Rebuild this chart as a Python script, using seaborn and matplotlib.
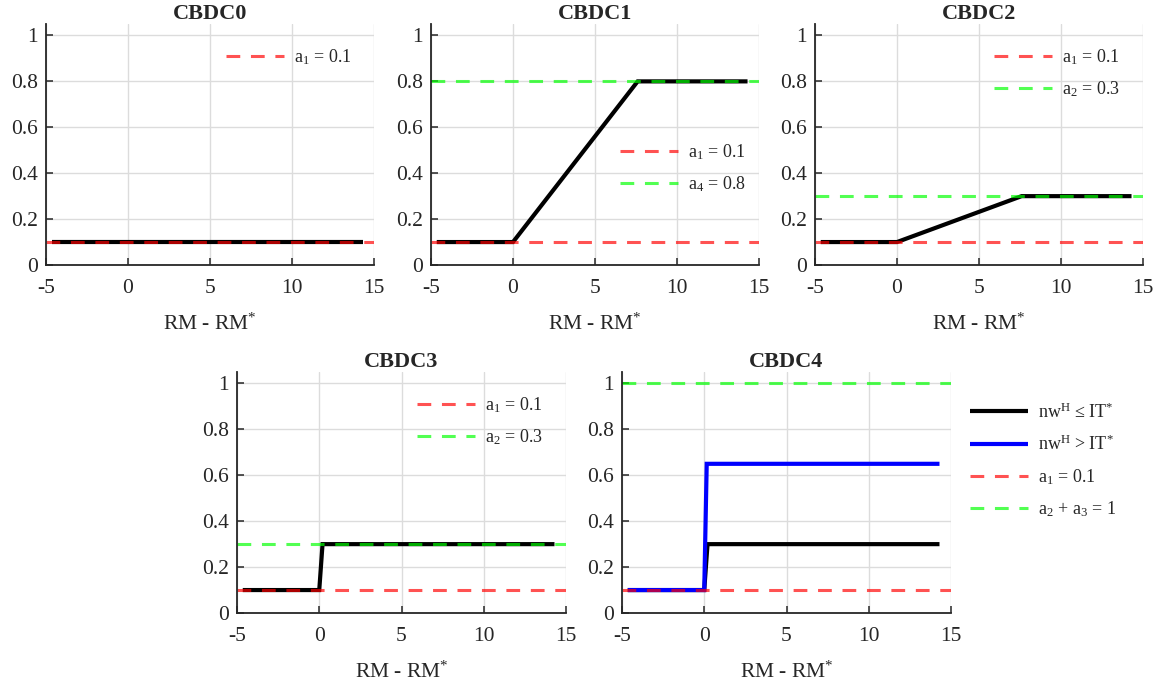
import matplotlib
matplotlib.use("Agg")
import matplotlib.pyplot as plt
import seaborn as sns
import numpy as np

# ---------------- data ----------------
x_ticks = [-5, 0, 5, 10, 15]
y_ticks = [0, 0.2, 0.4, 0.6, 0.8, 1]
y_tick_labels = ["0", "0.2", "0.4", "0.6", "0.8", "1"]

titles = ["CBDC0", "CBDC1", "CBDC2", "CBDC3", "CBDC4"]

cbdc0_x = [-4.65, 14.3]
cbdc0_y = [0.1, 0.1]
cbdc1_x = [-4.65, 0, 7.6, 14.3]
cbdc1_y = [0.1, 0.1, 0.8, 0.8]
cbdc2_x = [-4.65, 0, 7.6, 14.3]
cbdc2_y = [0.1, 0.1, 0.3, 0.3]
cbdc3_x = [-4.65, 0, 0.2, 14.3]
cbdc3_y = [0.1, 0.1, 0.3, 0.3]
cbdc4_low_x = [-4.65, 0, 0.2, 14.3]
cbdc4_low_y = [0.1, 0.1, 0.3, 0.3]
cbdc4_high_x = [-4.65, 0, 0.15, 14.3]
cbdc4_high_y = [0.1, 0.1, 0.65, 0.65]

# reference levels (value, label) per panel: red then green
refs = [
    [(0.1, r"$\mathregular{a_1}$ = 0.1")],
    [(0.1, r"$\mathregular{a_1}$ = 0.1"), (0.8, r"$\mathregular{a_4}$ = 0.8")],
    [(0.1, r"$\mathregular{a_1}$ = 0.1"), (0.3, r"$\mathregular{a_2}$ = 0.3")],
    [(0.1, r"$\mathregular{a_1}$ = 0.1"), (0.3, r"$\mathregular{a_2}$ = 0.3")],
    [(0.1, r"$\mathregular{a_1}$ = 0.1"), (1.0, r"$\mathregular{a_2}$ + $\mathregular{a_3}$ = 1")],
]
curves = [
    [(cbdc0_x, cbdc0_y)],
    [(cbdc1_x, cbdc1_y)],
    [(cbdc2_x, cbdc2_y)],
    [(cbdc3_x, cbdc3_y)],
    [(cbdc4_low_x, cbdc4_low_y), (cbdc4_high_x, cbdc4_high_y)],
]
curve_labels = [r"nw$^{\mathregular{H}}$ ≤ IT$^{*}$", r"nw$^{\mathregular{H}}$ > IT$^{*}$"]

# ---------------- style ----------------
sns.set_theme(style="ticks")
plt.rcParams["font.family"] = ["Liberation Serif", "DejaVu Serif"]
plt.rcParams["mathtext.fontset"] = "custom"
plt.rcParams["mathtext.rm"] = "Liberation Serif"
plt.rcParams["mathtext.it"] = "Liberation Serif:italic"
plt.rcParams["mathtext.bf"] = "Liberation Serif:bold"

RED = (1.0, 0.0, 0.0, 0.68)
GREEN = (0.0, 1.0, 0.0, 0.68)
curve_colors = ["black", (0.0, 0.0, 1.0)]

fig = plt.figure(figsize=(11.63, 6.86), dpi=100)
W, H = 1163, 686
# axes pixel boxes: left, top, right, bottom
boxes = [
    (46, 24, 374, 265),
    (431, 24, 759, 265),
    (815, 24, 1143, 265),
    (237, 372, 566, 613),
    (622, 372, 951, 613),
]
leg_pos = [
    (0.55, 0.905),
    (0.577, 0.51),
    (0.546, 0.905),
    (0.547, 0.905),
    (1.058, 0.875),
]

for i, (l, t, r, b) in enumerate(boxes):
    ax = fig.add_axes([l / W, 1 - b / H, (r - l) / W, (b - t) / H])
    ax.grid(True, color="#dcdcdc", linewidth=1.0)
    ax.set_axisbelow(True)
    handles = []
    for j, (xs, ys) in enumerate(curves[i]):
        sns.lineplot(x=xs, y=ys, ax=ax, color=curve_colors[j], linewidth=3.0,
                     solid_capstyle="butt", solid_joinstyle="miter", sort=False,
                     estimator=None, legend=False)
        if i == 4:
            handles.append(ax.lines[-1])
            ax.lines[-1].set_label(curve_labels[j])
    for k, (val, lab) in enumerate(refs[i]):
        col = RED if k == 0 else GREEN
        hl = ax.axhline(val, color=col, linewidth=2.2, linestyle=(0, (4.5, 3.5)),
                        label=lab, dash_capstyle="butt")
        handles.append(hl)
    ax.set_xlim(-5, 15)
    ax.set_ylim(0, 1.05)
    ax.set_xticks(x_ticks)
    ax.set_xticklabels([str(v) for v in x_ticks])
    ax.set_yticks(y_ticks)
    ax.set_yticklabels(y_tick_labels)
    ax.tick_params(axis="both", direction="in", length=5, width=1.1,
                   labelsize=15.5, colors="#262626", labelcolor="#262626")
    ax.tick_params(axis="x", pad=10)
    ax.tick_params(axis="y", pad=6)
    for side in ["top", "right"]:
        ax.spines[side].set_visible(False)
    for side in ["left", "bottom"]:
        ax.spines[side].set_color("#262626")
        ax.spines[side].set_linewidth(1.3)
    ax.set_title(titles[i], fontsize=16, fontweight="bold", pad=3)
    ax.set_xlabel(r"RM - RM$^{*}$", fontsize=15.5, labelpad=11, color="#262626")
    ax.set_ylabel("")
    ax.legend(handles=handles, loc="upper left", bbox_to_anchor=leg_pos[i],
              frameon=False, fontsize=13, borderpad=0, borderaxespad=0,
              handlelength=3.2, handletextpad=0.55, labelspacing=0.72)

fig.savefig("out.png", dpi=100)
